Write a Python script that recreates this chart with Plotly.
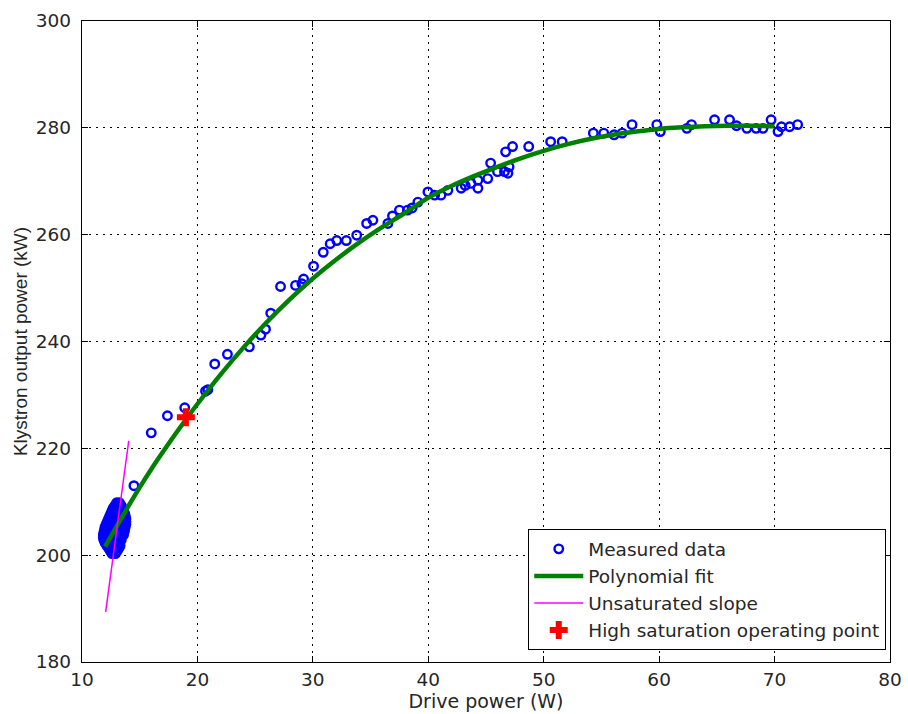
import plotly.graph_objects as go

# Dense cluster of measurements at low drive (one list of drive values per output level)
cluster_kw = [200.3, 200.8, 201.3, 201.8, 202.3, 202.8, 203.3, 203.8, 204.3, 204.8,
              205.3, 205.8, 206.3, 206.8, 207.3, 207.8, 208.3, 208.8, 209.3, 209.8]
cluster_w = [
    [12.6, 12.9],
    [12.45, 12.75, 13.05],
    [12.3, 12.6, 12.9, 13.2],
    [12.15, 12.45, 12.75, 13.05, 13.3],
    [12.0, 12.3, 12.6, 12.9, 13.2],
    [11.9, 12.2, 12.5, 12.8, 13.1, 13.4],
    [11.85, 12.15, 12.45, 12.75, 13.05, 13.35],
    [11.85, 12.15, 12.45, 12.75, 13.05, 13.35, 13.6],
    [11.9, 12.2, 12.5, 12.8, 13.1, 13.4, 13.65],
    [11.95, 12.25, 12.55, 12.85, 13.15, 13.45, 13.7],
    [12.0, 12.3, 12.6, 12.9, 13.2, 13.5, 13.75],
    [12.1, 12.4, 12.7, 13.0, 13.3, 13.6, 13.8],
    [12.2, 12.5, 12.8, 13.1, 13.4, 13.8],
    [12.3, 12.6, 12.9, 13.2, 13.5, 13.8],
    [12.4, 12.7, 13.0, 13.3, 13.55, 13.75],
    [12.5, 12.8, 13.1, 13.4, 13.7],
    [12.6, 12.9, 13.2, 13.45, 13.6],
    [12.7, 13.0, 13.25, 13.5],
    [12.85, 13.1, 13.4],
    [13.0, 13.25],
]

# Remaining measurements, rising part and saturation plateau
drive_w = [
    14.5, 16.0, 17.4, 18.9, 20.7, 20.9, 21.5, 22.6, 24.5, 25.5, 25.9, 26.35,
    27.2, 28.5, 29.05, 29.2, 30.06, 30.9, 31.5, 32.07, 32.9, 33.8, 34.66,
    35.2, 36.5, 36.9, 37.5, 38.2, 38.6, 39.1, 39.97, 40.55, 41.1, 41.7,
    42.85, 43.2, 43.7, 44.3, 44.3, 45.15, 45.4, 46.0, 46.6, 46.9, 46.7,
    47.0, 47.3, 48.7,
    50.6, 51.6, 54.3, 55.2, 56.1, 56.8, 57.65, 59.8, 60.1, 62.4, 62.8,
    64.8, 66.1, 66.7, 67.6, 68.4, 69.0, 69.7, 70.3, 70.6, 71.3, 72.0,
]
output_kw = [
    213.0, 222.9, 226.1, 227.6, 230.7, 231.0, 235.8, 237.6, 239.0, 241.2, 242.3, 245.3,
    250.3, 250.5, 250.8, 251.7, 254.1, 256.7, 258.3, 258.9, 258.9, 259.9, 262.1,
    262.7, 262.1, 263.5, 264.6, 264.6, 265.0, 266.1, 268.0, 267.4, 267.4, 268.3,
    268.7, 269.2, 269.6, 270.2, 268.7, 270.5, 273.4, 271.8, 271.8, 271.5, 275.5,
    272.7, 276.5, 276.5,
    277.4, 277.4, 279.0, 279.0, 278.7, 279.0, 280.6, 280.6, 279.3, 279.9, 280.6,
    281.5, 281.5, 280.4, 279.9, 279.9, 279.9, 281.5, 279.3, 280.2, 280.2, 280.6,
]

# Polynomial fit curve
fit_x = [12, 13, 14, 15, 16, 17, 18, 19, 20, 22, 24, 26, 28, 30, 32, 34, 36,
         38, 40, 42, 44, 46, 48, 50, 52, 54, 56, 58, 60, 62, 64, 66, 68, 70]
fit_y = [201.6, 205.4, 209.1, 212.7, 216.1, 219.3, 222.4, 225.4, 228.3,
         233.8, 238.9, 243.6, 247.9, 251.8, 255.3, 258.5, 261.4, 264.1,
         266.9, 269.1, 271.0, 272.7, 274.3, 275.7, 276.9, 277.9, 278.7,
         279.3, 279.8, 280.1, 280.3, 280.4, 280.4, 280.3]

# Unsaturated (small-signal) slope
slope_x = [12.05, 14.05]
slope_y = [189.4, 221.4]

# High saturation operating point
op_x = [19.0]
op_y = [225.8]

x_ticks = [10, 20, 30, 40, 50, 60, 70, 80]
y_ticks = [180, 200, 220, 240, 260, 280, 300]

all_w = [w for row in cluster_w for w in row] + drive_w
all_kw = [kw for kw, row in zip(cluster_kw, cluster_w) for _ in row] + output_kw

WIDE = "DejaVu Sans, Verdana, sans-serif"
NARROW = "Liberation Sans, Arial, Helvetica, sans-serif"
TEXT = "#262626"

fig = go.Figure()
fig.add_trace(go.Scatter(
    x=all_w, y=all_kw, mode="markers", name="Measured data",
    marker=dict(symbol="circle-open", size=8.5, color="#0000ff",
                line=dict(color="#0000ff", width=2.4)),
))
fig.add_trace(go.Scatter(
    x=fit_x, y=fit_y, mode="lines", name="Polynomial fit",
    line=dict(color="#008000", width=4.5, shape="spline"),
))
fig.add_trace(go.Scatter(
    x=slope_x, y=slope_y, mode="lines", name="Unsaturated slope",
    line=dict(color="#ff00ff", width=1.5),
))
fig.add_trace(go.Scatter(
    x=op_x, y=op_y, mode="markers", name="High saturation operating point",
    marker=dict(symbol="cross", size=15, color="#ff0000", line=dict(width=0)),
))

axis_common = dict(
    showline=True, linecolor="black", linewidth=1.3, mirror="ticks",
    ticks="inside", ticklen=6, tickcolor="black",
    showgrid=True, gridcolor="black", gridwidth=1, griddash="2px,5px",
    zeroline=False, automargin=False,
    tickfont=dict(family=WIDE, size=18.5, color=TEXT),
)

fig.update_layout(
    width=908, height=714,
    margin=dict(l=82, r=18, t=21, b=52),
    paper_bgcolor="white", plot_bgcolor="white",
    font=dict(family=WIDE, color=TEXT),
    showlegend=True,
    legend=dict(
        x=0.995, y=0.0187, xanchor="right", yanchor="bottom",
        bgcolor="white", bordercolor="black", borderwidth=1.3,
        font=dict(family=WIDE, size=18.5, color=TEXT),
        tracegroupgap=0, itemwidth=49,
    ),
    xaxis=dict(
        range=[10, 80], tickvals=x_ticks, ticktext=[str(v) for v in x_ticks],
        ticklabelstandoff=1,
        title=dict(text="Drive power (W)", font=dict(family=WIDE, size=19, color=TEXT),
                   standoff=4),
        **axis_common,
    ),
    yaxis=dict(
        range=[180, 300], tickvals=y_ticks, ticktext=[str(v) for v in y_ticks],
        ticklabelstandoff=6,
        title=dict(text="Klystron output power (kW)",
                   font=dict(family=NARROW, size=19, color=TEXT), standoff=3),
        **axis_common,
    ),
)

fig.write_html("out.html")
